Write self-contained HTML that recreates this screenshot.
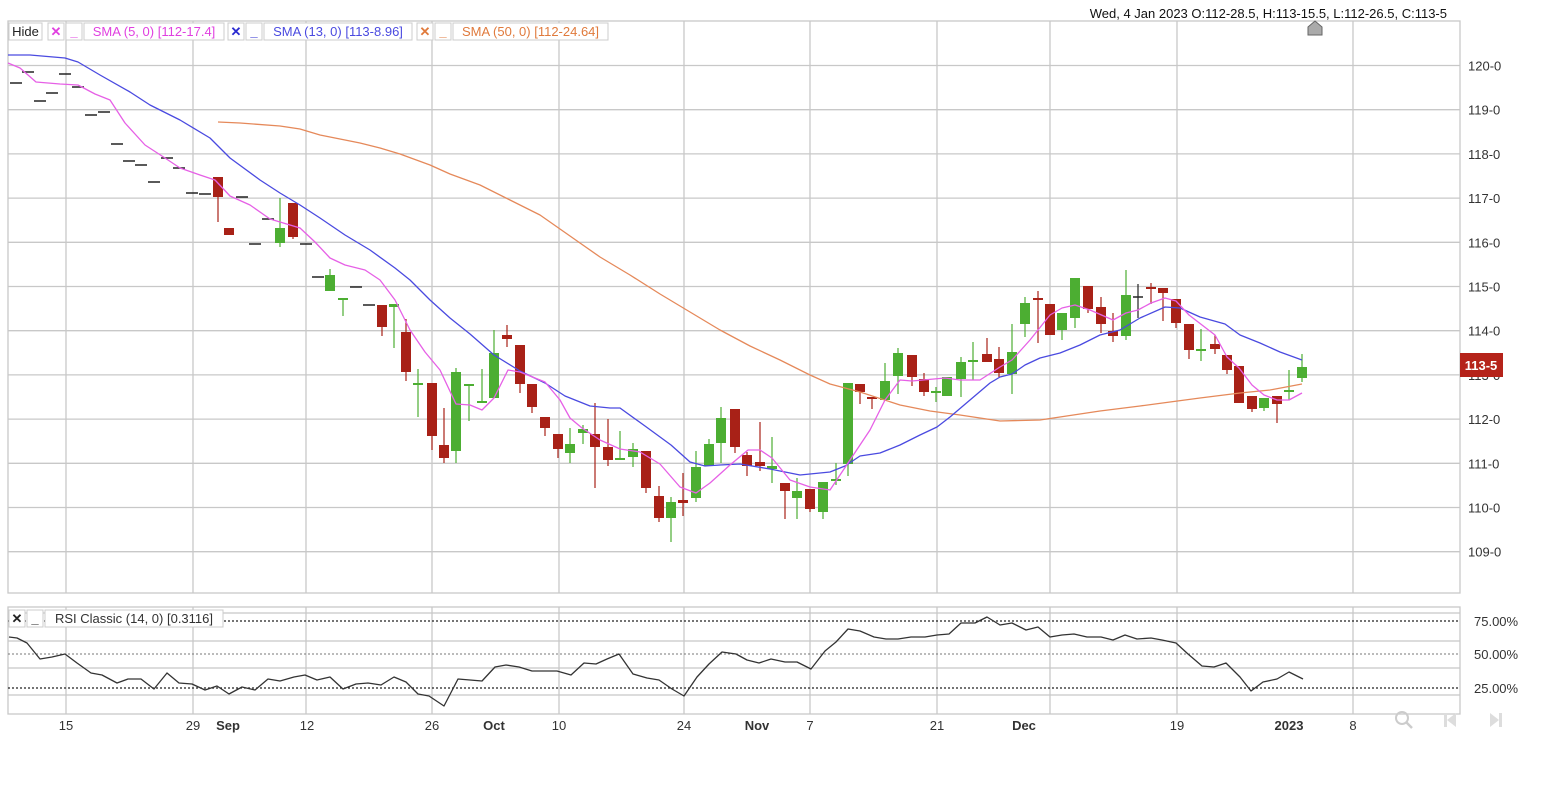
<!DOCTYPE html>
<html><head><meta charset="utf-8"><style>
html,body{margin:0;padding:0;background:#fff;}
body{width:1542px;height:792px;overflow:hidden;position:relative;font-family:"Liberation Sans",Arial,sans-serif;}
svg{position:absolute;left:0;top:0;}
</style></head><body>
<svg id="s" width="1542" height="792" xmlns="http://www.w3.org/2000/svg" font-family="Liberation Sans, Arial, sans-serif">
<g id="grid"></g>
<g id="series"></g>
<g id="over"></g>
</svg>
<script>
var NS="http://www.w3.org/2000/svg";
function el(p,t,a,txt){var e=document.createElementNS(NS,t);for(var k in a)e.setAttribute(k,a[k]);if(txt!==undefined)e.textContent=txt;document.getElementById(p).appendChild(e);return e;}
// grid
var vx=[66,193,306,432,559,684,810,937,1050,1177,1353];
vx.forEach(function(x){el('grid','line',{x1:x,y1:21,x2:x,y2:593,stroke:'#c8c8c8','stroke-width':1.3});el('grid','line',{x1:x,y1:607,x2:x,y2:714,stroke:'#c8c8c8','stroke-width':1.3});});
var labs=['120-0','119-0','118-0','117-0','116-0','115-0','114-0','113-0','112-0','111-0','110-0','109-0'];
for(var k=0;k<12;k++){var y=65.5+44.2*k;el('grid','line',{x1:8,y1:y,x2:1460,y2:y,stroke:'#c8c8c8','stroke-width':1.3});el('grid','text',{x:1468,y:y+5,'font-size':13,fill:'#333'},labs[k]);}
el('grid','rect',{x:8,y:21,width:1452,height:572,fill:'none',stroke:'#c8c8c8','stroke-width':1.3});
el('grid','rect',{x:8,y:607,width:1452,height:107,fill:'none',stroke:'#c8c8c8','stroke-width':1.3});
[613,641,668,695].forEach(function(y){el('grid','line',{x1:8,y1:y,x2:1460,y2:y,stroke:'#c8c8c8','stroke-width':1.3});});
[[621,'75.00%',1.3],[654,'50.00%',0.9],[688,'25.00%',1.3]].forEach(function(d){el('grid','line',{x1:8,y1:d[0],x2:1460,y2:d[0],stroke:d[2]>1?'#222':'#777','stroke-width':d[2],'stroke-dasharray':'2,2'});el('grid','text',{x:1474,y:d[0]+5,'font-size':13,fill:'#333'},d[1]);});
// x labels
[[66,'15'],[193,'29'],[228,'Sep',1],[307,'12'],[432,'26'],[494,'Oct',1],[559,'10'],[684,'24'],[757,'Nov',1],[810,'7'],[937,'21'],[1024,'Dec',1],[1177,'19'],[1289,'2023',1],[1353,'8']].forEach(function(d){el('grid','text',{x:d[0],y:730,'font-size':13,fill:'#333','text-anchor':'middle','font-weight':d[2]?'bold':'normal'},d[1]);});
// candles [x,bodyTop,bodyBot,hi,lo,c]
var C=[
[16,83,83,83,83,'k'],[28,72,72,72,72,'k'],[40,101,101,101,101,'k'],[52,93,93,93,93,'k'],[65,74,74,74,74,'k'],[78,87,87,87,87,'k'],[91,115,115,115,115,'k'],[104,112,112,112,112,'k'],[117,144,144,144,144,'k'],[129,161,161,161,161,'k'],[141,165,165,165,165,'k'],[154,182,182,182,182,'k'],[167,158,158,158,158,'k'],[179,168,168,168,168,'k'],[192,193,193,193,193,'k'],[205,194,194,194,194,'k'],
[218,177,197,177,222,'r'],[229,228,235,228,235,'r'],[242,197,197,197,197,'k'],[255,244,244,244,244,'k'],[268,219,219,219,219,'k'],[280,228,243,198,247,'g'],[293,203,237,203,239,'r'],[306,244,244,244,244,'k'],[318,277,277,277,277,'k'],[330,275,291,269,291,'g'],
[343,298,300,298,316,'g'],[356,287,287,287,287,'k'],[369,305,305,305,305,'k'],[382,305,327,305,336,'r'],[394,304,307,304,348,'g'],[406,332,372,319,381,'r'],[418,383,385,369,417,'g'],[432,383,436,383,450,'r'],[444,445,458,408,463,'r'],[456,372,451,368,463,'g'],[469,384,386,384,421,'g'],[482,401,403,369,403,'g'],[494,353,398,330,398,'g'],[507,335,339,325,347,'r'],[520,345,384,345,393,'r'],[532,384,407,384,413,'r'],[545,417,428,417,436,'r'],[558,434,449,434,458,'r'],[570,444,453,428,463,'g'],[583,429,433,425,444,'g'],[595,434,447,403,488,'r'],[608,447,460,419,466,'r'],[620,458,460,431,460,'g'],[633,449,457,443,467,'g'],[646,451,488,451,493,'r'],[659,496,518,486,522,'r'],[671,502,518,497,542,'g'],[683,500,503,473,516,'r'],
[696,467,498,451,502,'g'],[709,444,466,439,466,'g'],[721,418,443,407,463,'g'],[735,409,447,409,453,'r'],[747,455,466,452,476,'r'],[760,462,466,422,471,'r'],[772,466,469,437,483,'g'],[785,483,491,483,519,'r'],[797,491,498,478,519,'g'],[810,489,509,489,512,'r'],[823,482,512,482,519,'g'],[836,479,481,463,485,'g'],[848,383,464,383,476,'g'],[860,384,392,384,404,'r'],[872,397,399,397,409,'r'],[885,381,400,363,400,'g'],[898,353,376,348,394,'g'],[912,355,377,355,386,'r'],[924,379,392,373,396,'r'],[936,391,393,387,402,'g'],[947,377,396,377,396,'g'],[961,362,379,357,397,'g'],[973,360,362,342,380,'g'],[987,354,362,338,362,'r'],[999,359,373,347,377,'r'],[1012,352,374,324,394,'g'],
[1025,303,324,297,337,'g'],[1038,298,300,291,343,'r'],[1050,304,335,304,335,'r'],[1062,313,330,313,340,'g'],[1075,278,318,278,328,'g'],[1088,286,309,286,313,'r'],[1101,307,324,297,333,'r'],[1113,331,336,313,342,'r'],[1126,295,336,270,340,'g'],[1138,297,299,284,318,'b'],[1151,287,289,283,304,'r'],[1163,288,293,288,321,'r'],[1176,299,323,299,328,'r'],[1189,324,350,324,359,'r'],[1201,349,351,329,361,'g'],[1215,344,349,335,354,'r'],[1227,355,370,355,374,'r'],[1239,366,403,366,403,'r'],[1252,396,409,396,412,'r'],[1264,398,408,398,411,'g'],[1277,396,404,396,423,'r'],[1289,390,392,370,400,'g'],[1302,367,378,354,382,'g']
];
C.forEach(function(d){var x=d[0],c=d[5];
 if(c==='k'){el('series','line',{x1:x-6,y1:d[1],x2:x+6,y2:d[1],stroke:'#222','stroke-width':1.5});return;}
 var col=c==='r'?'#a82117':(c==='g'?'#4cae32':'#222');
 el('series','line',{x1:x,y1:d[3],x2:x,y2:d[4],stroke:col,'stroke-width':1.2});
 var h=Math.max(d[2]-d[1],2);
 if(c==='b'){el('series','line',{x1:x-5,y1:d[1],x2:x+5,y2:d[1],stroke:col,'stroke-width':1.5});return;}
 el('series','rect',{x:x-5,y:d[1],width:10,height:h,fill:col});
});
function pl(pts,col,w,g){el(g||'series','polyline',{points:pts.map(function(p){return p.join(',')}).join(' '),fill:'none',stroke:col,'stroke-width':w,'stroke-linejoin':'round'});}
pl([[218,122],[240,123],[280,126],[300,129],[320,135],[340,139],[360,143],[380,148],[400,154],[430,165],[450,174],[480,185],[510,200],[540,215],[570,236],[600,257],[630,275],[660,294],[690,312],[720,330],[750,346],[780,360],[810,375],[830,384],[860,392],[900,405],[930,411],[960,415],[1000,421],[1040,420],[1060,417],[1100,411],[1140,406],[1170,402],[1200,398],[1240,393],[1270,390],[1302,384]],'#e5895a',1.3);
pl([[8,55],[30,55],[65,58],[78,62],[100,75],[130,92],[150,105],[180,120],[210,138],[230,158],[260,180],[280,193],[300,205],[320,218],[345,235],[370,250],[395,268],[410,280],[430,300],[450,318],[470,334],[494,355],[520,371],[545,383],[565,396],[590,406],[610,408],[620,408],[645,426],[671,445],[690,462],[705,466],[720,465],[740,464],[770,469],[800,475],[830,472],[845,466],[860,456],[880,453],[900,445],[920,435],[937,427],[950,417],[970,400],[990,383],[1000,377],[1012,374],[1025,365],[1040,358],[1060,353],[1080,345],[1100,335],[1120,330],[1140,318],[1165,307],[1180,308],[1200,317],[1225,324],[1240,335],[1260,343],[1280,352],[1302,360]],'#4a4ae0',1.3);
pl([[8,63],[20,68],[36,82],[60,84],[78,85],[95,94],[110,100],[125,123],[145,145],[165,158],[180,168],[200,175],[215,180],[230,196],[250,205],[270,219],[290,225],[300,228],[315,242],[330,258],[345,265],[365,270],[380,280],[395,300],[410,330],[425,352],[440,370],[456,404],[470,405],[482,410],[494,398],[508,370],[520,372],[545,382],[560,400],[570,418],[582,428],[600,440],[620,449],[640,452],[660,464],[680,487],[696,493],[710,483],[730,465],[748,450],[760,450],[772,458],[790,480],[810,487],[830,490],[848,463],[870,430],[885,400],[900,380],[912,381],[945,378],[960,380],[980,380],[1000,367],[1012,360],[1030,340],[1050,315],[1062,308],[1075,305],[1090,310],[1113,320],[1126,313],[1138,310],[1151,303],[1165,298],[1176,301],[1189,315],[1215,335],[1227,357],[1239,368],[1252,385],[1264,395],[1277,400],[1289,400],[1302,393]],'#e660e6',1.3);
// RSI
pl([[9,637],[17,638],[27,643],[40,659],[52,657],[65,654],[77,663],[91,673],[102,675],[117,683],[128,679],[141,679],[154,689],[167,673],[179,683],[192,684],[205,690],[217,686],[229,694],[242,687],[255,690],[268,679],[280,681],[294,677],[305,675],[317,680],[330,677],[343,689],[356,684],[368,683],[381,685],[394,677],[406,682],[418,694],[429,696],[444,706],[458,679],[470,680],[482,681],[495,667],[506,665],[519,667],[532,671],[545,671],[557,671],[571,675],[584,663],[596,664],[607,659],[619,654],[633,674],[647,678],[659,680],[672,689],[684,696],[697,677],[709,664],[722,652],[736,654],[747,660],[759,663],[771,659],[785,662],[797,662],[811,669],[825,651],[836,642],[848,629],[860,631],[874,637],[886,639],[898,639],[911,637],[925,637],[937,635],[949,634],[961,623],[975,623],[987,617],[1000,625],[1012,623],[1026,630],[1038,627],[1050,637],[1062,635],[1074,634],[1087,637],[1101,637],[1113,640],[1125,635],[1137,639],[1151,638],[1162,640],[1176,643],[1188,654],[1202,666],[1214,667],[1226,663],[1240,677],[1251,691],[1263,682],[1277,679],[1289,672],[1303,679]],'#333',1.3);
// legend boxes
function box(x,w,txt,col,bold,fs){el('over','rect',{x:x,y:23,width:w,height:17,fill:'#fff',stroke:'#ccc'});el('over','text',{x:x+w/2,y:36,'font-size':fs||13,fill:col,'text-anchor':'middle','font-weight':bold?'bold':'normal'},txt);}
box(9,33,'Hide','#222');
box(48,16,'✕','#e040e0',1);box(66,16,'_','#e040e0',1);box(84,140,'SMA (5, 0)  [112-17.4]','#e040e0');
box(228,16,'✕','#2a2ad0',1);box(246,16,'_','#2a2ad0',1);box(264,148,'SMA (13, 0)  [113-8.96]','#4a4ae0');
box(417,16,'✕','#e07a3c',1);box(435,16,'_','#e07a3c',1);box(453,155,'SMA (50, 0)  [112-24.64]','#e07a3c');
function box2(x,y,w,txt,col,bold){el('over','rect',{x:x,y:y,width:w,height:17,fill:'#fff',stroke:'#ccc'});el('over','text',{x:x+w/2,y:y+13,'font-size':13,fill:col,'text-anchor':'middle','font-weight':bold?'bold':'normal'},txt);}
box2(9,610,16,'✕','#222',1);box2(27,610,16,'_','#222',1);box2(45,610,178,'RSI Classic (14, 0)  [0.3116]','#333');
el('over','text',{x:1447,y:18,'font-size':13,fill:'#111','text-anchor':'end'},'Wed, 4 Jan 2023  O:112-28.5, H:113-15.5, L:112-26.5, C:113-5');
el('over','polygon',{points:'1308,35 1308,27 1315,21 1322,27 1322,35',fill:'#aaa',stroke:'#666'});
el('over','rect',{x:1460,y:353,width:43,height:24,fill:'#b5231a'});
el('over','text',{x:1481,y:370,'font-size':13,fill:'#fff','text-anchor':'middle','font-weight':'bold'},'113-5');
el('over','circle',{cx:1402,cy:718,r:6,fill:'none',stroke:'#ccc','stroke-width':2});
el('over','line',{x1:1406,y1:722,x2:1412,y2:728,stroke:'#ccc','stroke-width':2.5});
el('over','rect',{x:1444,y:713,width:3,height:14,fill:'#ddd'});
el('over','polygon',{points:'1456,713 1456,727 1447,720',fill:'#ddd'});
el('over','polygon',{points:'1490,713 1490,727 1499,720',fill:'#ddd'});
el('over','rect',{x:1499,y:713,width:3,height:14,fill:'#ddd'});
</script>
</body></html>
